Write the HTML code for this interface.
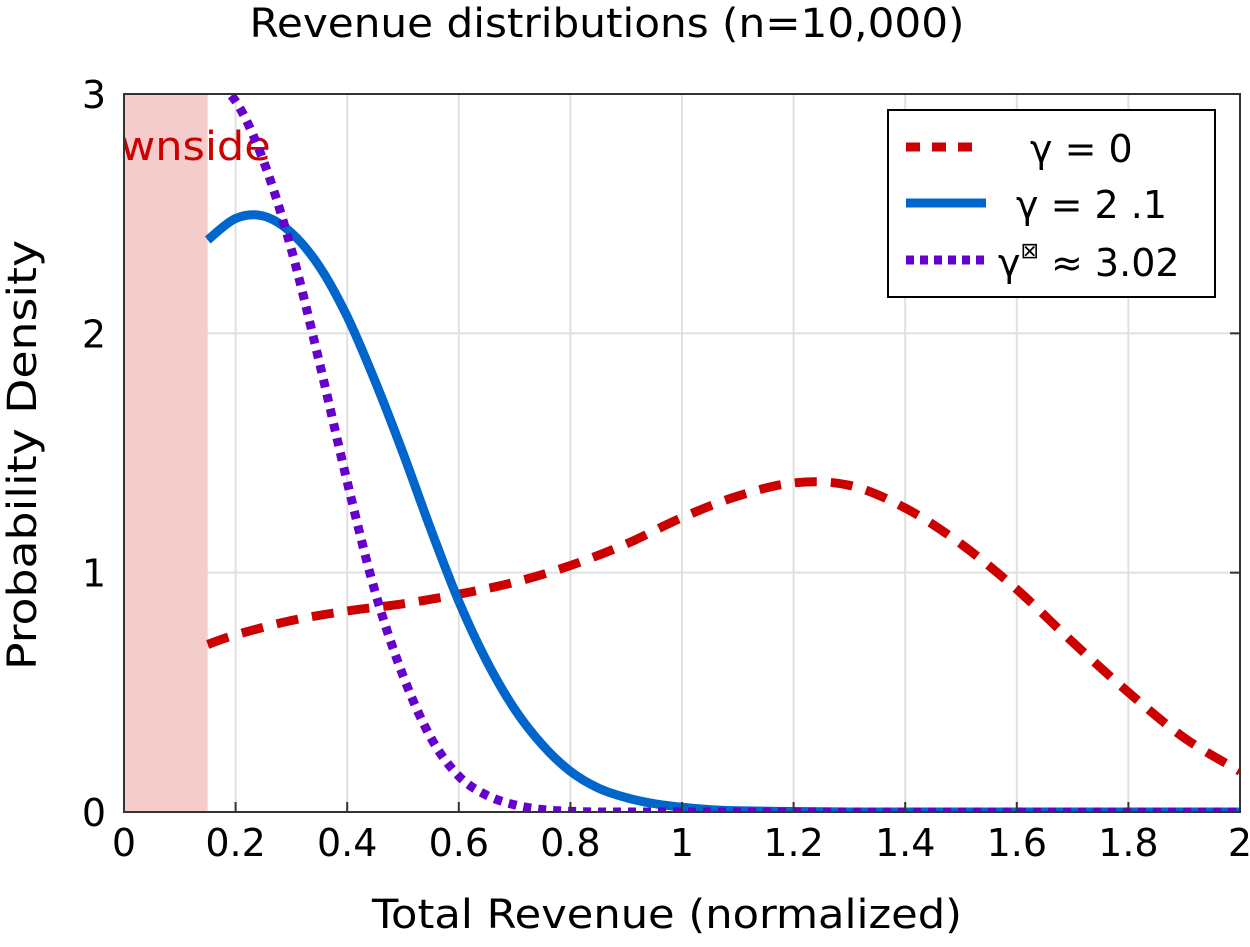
<!DOCTYPE html>
<html><head><meta charset="utf-8"><style>
html,body{margin:0;padding:0;background:#fff}
svg text{font-family:"DejaVu Sans","Liberation Sans",sans-serif;fill:#000}
</style></head><body>
<svg id="chart" width="1250" height="942" viewBox="0 0 1250 942" xmlns="http://www.w3.org/2000/svg">
<defs><clipPath id="plotclip"><rect x="124" y="94" width="1116" height="718"/></clipPath></defs>
<text x="607" y="37" font-size="40" text-anchor="middle" textLength="715" lengthAdjust="spacingAndGlyphs">Revenue distributions (n=10,000)</text>
<g id="grid"></g>
<rect id="downside" fill="#f4cccc"/>
<g clip-path="url(#plotclip)">
<text id="downside-label" x="270" y="160" font-size="40" textLength="210" lengthAdjust="spacingAndGlyphs" style="fill:#cc0000">Downside</text>
<g id="series"></g>
</g>
<rect x="124" y="94" width="1116" height="718" fill="none" stroke="#333" stroke-width="2"/>
<g id="ticks"></g>
<text x="667" y="928" font-size="40" text-anchor="middle" textLength="590" lengthAdjust="spacingAndGlyphs">Total Revenue (normalized)</text>
<text transform="translate(36,455) rotate(-90)" font-size="40" text-anchor="middle" textLength="430" lengthAdjust="spacingAndGlyphs">Probability Density</text>
<g>
<rect x="888" y="110" width="327" height="187" fill="#fff" stroke="#000" stroke-width="2"/>
<line x1="906" y1="147" x2="976" y2="147" stroke="#cc0000" stroke-width="9" stroke-dasharray="14,12"/>
<text x="1030" y="162" font-size="38">γ = 0</text>
<line x1="906" y1="203" x2="986" y2="203" stroke="#0066cc" stroke-width="9"/>
<text x="1016" y="218" font-size="38">γ = 2 .1</text>
<line x1="906" y1="260" x2="986" y2="260" stroke="#6600cc" stroke-width="9" stroke-dasharray="8,6"/>
<text x="998" y="276" font-size="38">γ<tspan font-size="22" dy="-18">⊠</tspan><tspan dy="18"> ≈ 3.02</tspan></text>
</g>
</svg>
<script>
const xTicks=[0,0.2,0.4,0.6,0.8,1,1.2,1.4,1.6,1.8,2];
const xTickLabels=["0","0.2","0.4","0.6","0.8","1","1.2","1.4","1.6","1.8","2"];
const yTicks=[0,1,2,3];
const yTickLabels=["0","1","2","3"];
const downsideEnd=0.15;
const xRed=[0.15,0.2,0.3,0.4,0.5,0.6,0.7,0.8,0.9,1.0,1.1,1.2,1.3,1.4,1.5,1.6,1.7,1.8,1.9,2.0];
const yRed=[0.70,0.74,0.80,0.84,0.87,0.91,0.96,1.03,1.12,1.23,1.32,1.375,1.365,1.27,1.12,0.93,0.71,0.50,0.31,0.17];
const xBlue=[0.15,0.2,0.25,0.3,0.35,0.4,0.45,0.5,0.55,0.6,0.65,0.7,0.75,0.8,0.85,0.9,0.95,1.0,1.05,1.1,1.2,1.3,1.4,1.6,1.8,2.0];
const yBlue=[2.39,2.48,2.49,2.42,2.28,2.07,1.80,1.50,1.18,0.88,0.63,0.43,0.28,0.17,0.10,0.06,0.035,0.02,0.01,0.005,0.002,0,0,0,0,0];
const xPurple=[0.15,0.2,0.25,0.3,0.35,0.4,0.45,0.5,0.55,0.6,0.65,0.7,0.75,0.8,0.85,0.9,1.0,1.2,1.4,1.6,1.8,2.0];
const yPurple=[3.07,2.97,2.72,2.35,1.88,1.38,0.92,0.57,0.31,0.15,0.07,0.03,0.01,0.003,0,0,0,0,0,0,0,0];
const NS="http://www.w3.org/2000/svg";
const X0=124,X1=1240,Y0=812,Y1=94;
function sx(v){return X0+(v-0)/(2-0)*(X1-X0);}
function sy(v){return Y0-(v-0)/(3-0)*(Y0-Y1);}
function mk(tag,attrs,parent){const e=document.createElementNS(NS,tag);for(const k in attrs)e.setAttribute(k,attrs[k]);parent.appendChild(e);return e;}
const grid=document.getElementById('grid'),ticks=document.getElementById('ticks');
xTicks.forEach((t,i)=>{
  const g=mk('line',{x1:sx(t),x2:sx(t),y1:Y1,y2:Y0,stroke:'#e0e0e0','stroke-width':2},grid);
  
  
  const tk=mk('line',{x1:sx(t),x2:sx(t),y1:Y0,y2:Y0-10,stroke:'#333','stroke-width':2},ticks);
  
  
  const lb=mk('text',{x:sx(t),y:856,'font-size':38,'text-anchor':'middle'},ticks);
  lb.textContent=xTickLabels[i];
  
  
});
yTicks.forEach((t,i)=>{
  const g=mk('line',{x1:X0,x2:X1,y1:sy(t),y2:sy(t),stroke:'#e0e0e0','stroke-width':2},grid);
  
  
  const tk=mk('line',{x1:X1-10,x2:X1,y1:sy(t),y2:sy(t),stroke:'#333','stroke-width':2},ticks);
  
  
  const lb=mk('text',{x:106,y:sy(t)+14,'font-size':38,'text-anchor':'end'},ticks);
  lb.textContent=yTickLabels[i];
  
  
});
const ds=document.getElementById('downside');
ds.setAttribute('x',sx(0));ds.setAttribute('y',Y1);ds.setAttribute('width',sx(downsideEnd)-sx(0));ds.setAttribute('height',Y0-Y1);
const dl=document.getElementById('downside-label');
dl.setAttribute('x',sx(downsideEnd)+63-210);
function pathD(xs,ys){
  const p=xs.map((x,i)=>[sx(x),sy(ys[i])]);
  let d='M'+p[0][0]+','+p[0][1];
  for(let i=0;i<p.length-1;i++){
    const a=p[i-1]||p[i],b=p[i],c=p[i+1],e=p[i+2]||c;
    const c1x=b[0]+(c[0]-a[0])/6,c1y=b[1]+(c[1]-a[1])/6,c2x=c[0]-(e[0]-b[0])/6,c2y=c[1]-(e[1]-b[1])/6;
    d+=' C'+c1x+','+c1y+' '+c2x+','+c2y+' '+c[0]+','+c[1];
  }
  return d;
}
const series=document.getElementById('series');
const r=mk('path',{d:pathD(xRed,yRed),fill:'none',stroke:'#cc0000','stroke-width':9,'stroke-dasharray':'22,14'},series);


const b=mk('path',{d:pathD(xBlue,yBlue),fill:'none',stroke:'#0066cc','stroke-width':9},series);


const pu=mk('path',{d:pathD(xPurple,yPurple),fill:'none',stroke:'#6600cc','stroke-width':9,'stroke-dasharray':'8,7'},series);


</script>
</body></html>
